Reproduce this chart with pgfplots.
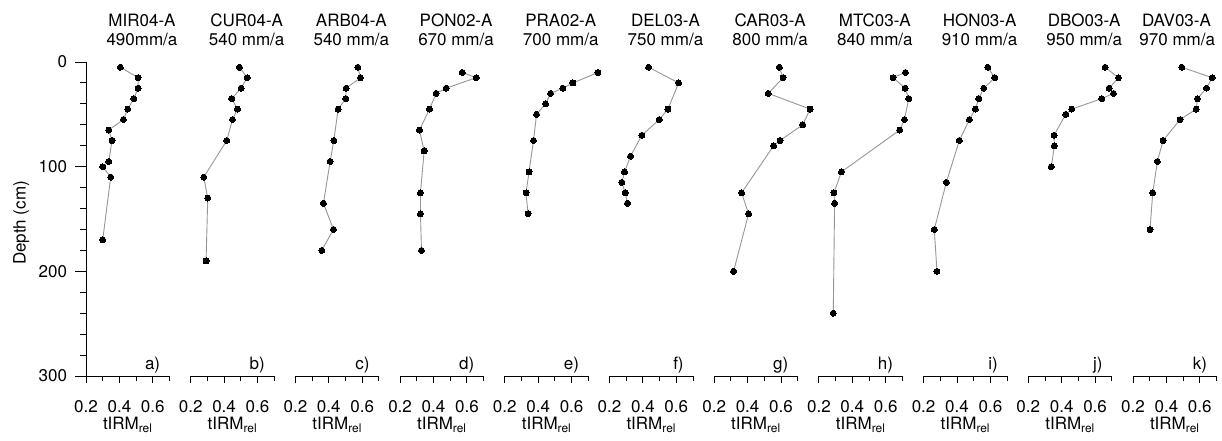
\documentclass[border=0pt]{standalone}
\usepackage{fontspec}
\setmainfont{TeX Gyre Heros}
\usepackage{pgfplots}
\pgfplotsset{compat=1.18}
\definecolor{linegray}{RGB}{150,150,150}
\newcommand{\fs}{\fontsize{17bp}{20bp}\selectfont}
\pgfplotsset{
  every axis/.append style={font=\fs},
  panel/.style={
    scale only axis, width=83.5bp, height=314bp,
    xmin=0.2, xmax=0.7, ymin=-300, ymax=0,
    axis x line*=bottom, axis y line=none,
    clip=false, anchor=south west,
    xtick={0.2,0.4,0.6}, xticklabels={0.2,0.4,0.6},
    minor xtick={0.3,0.5,0.7},
    tick align=outside, major tick length=7bp, minor tick length=4.5bp,
    axis line style={-, line width=0.9bp, black},
    every tick/.style={line width=0.9bp, black},
    xticklabel style={font=\fs, yshift=-14bp},
  },
  prof/.style={color=linegray, line width=0.9bp, mark=*, mark size=3bp,
    mark options={fill=black, draw=black, line width=0bp}},
}
\begin{document}
\begin{tikzpicture}[font=\fs]
% y axis of panel a
\begin{axis}[scale only axis, width=83.5bp, height=314bp,
  xmin=0.2, xmax=0.7, ymin=-300, ymax=0, anchor=south west, at={(86bp,65bp)},
  axis y line*=left, axis x line=none,
  ytick={-300,-200,-100,0}, yticklabels={300,200,100,0},
  minor ytick={-280,-260,...,-20},
  tick align=outside, major tick length=11bp, minor tick length=6bp,
  axis line style={-, line width=0.9bp, black},
  every tick/.style={line width=0.9bp, black},
  yticklabel style={font=\fs, xshift=-4.5bp}]
\end{axis}
\node[font=\fs, rotate=90, anchor=base] at (25.5bp,218bp) {Depth (cm)};
%
\begin{axis}[panel, at={(86bp,65bp)}]
\addplot[prof] coordinates {(0.406,-5)(0.512,-15)(0.512,-25)(0.486,-35)(0.45,-45)(0.424,-55)(0.336,-65)(0.356,-75)(0.336,-95)(0.30,-100)(0.348,-110)(0.30,-170)};
\node[font=\fs, anchor=base] at (axis cs:0.535,33.7) {MIR04-A};
\node[font=\fs, anchor=base] at (axis cs:0.535,16.2) {490mm/a};
\node[font=\fs, anchor=base east] at (axis cs:0.665,-294) {a)};
\node[font=\fs, anchor=base] at (axis cs:0.45,-351.5) {tIRM\textsubscript{rel}};
\end{axis}
%
\begin{axis}[panel, at={(190.7bp,65bp)}]
\addplot[prof] coordinates {(0.492,-5)(0.538,-15)(0.502,-25)(0.446,-35)(0.48,-45)(0.45,-55)(0.416,-75)(0.278,-110)(0.302,-130)(0.292,-190)};
\node[font=\fs, anchor=base] at (axis cs:0.535,33.7) {CUR04-A};
\node[font=\fs, anchor=base] at (axis cs:0.535,16.2) {540 mm/a};
\node[font=\fs, anchor=base east] at (axis cs:0.665,-294) {b)};
\node[font=\fs, anchor=base] at (axis cs:0.45,-351.5) {tIRM\textsubscript{rel}};
\end{axis}
%
\begin{axis}[panel, at={(295.4bp,65bp)}]
\addplot[prof] coordinates {(0.574,-5)(0.59,-15)(0.504,-25)(0.502,-35)(0.456,-45)(0.43,-75)(0.408,-95)(0.368,-135)(0.428,-160)(0.358,-180)};
\node[font=\fs, anchor=base] at (axis cs:0.535,33.7) {ARB04-A};
\node[font=\fs, anchor=base] at (axis cs:0.535,16.2) {540 mm/a};
\node[font=\fs, anchor=base east] at (axis cs:0.665,-294) {c)};
\node[font=\fs, anchor=base] at (axis cs:0.45,-351.5) {tIRM\textsubscript{rel}};
\end{axis}
%
\begin{axis}[panel, at={(400.1bp,65bp)}]
\addplot[prof] coordinates {(0.572,-10)(0.656,-15)(0.476,-25)(0.416,-30)(0.376,-45)(0.316,-65)(0.344,-85)(0.322,-125)(0.322,-145)(0.328,-180)};
\node[font=\fs, anchor=base] at (axis cs:0.535,33.7) {PON02-A};
\node[font=\fs, anchor=base] at (axis cs:0.535,16.2) {670 mm/a};
\node[font=\fs, anchor=base east] at (axis cs:0.665,-294) {d)};
\node[font=\fs, anchor=base] at (axis cs:0.45,-351.5) {tIRM\textsubscript{rel}};
\end{axis}
%
\begin{axis}[panel, at={(504.8bp,65bp)}]
\addplot[prof] coordinates {(0.758,-10)(0.608,-20)(0.548,-25)(0.474,-30)(0.444,-40)(0.39,-50)(0.372,-75)(0.345,-105)(0.327,-125)(0.339,-145)};
\node[font=\fs, anchor=base] at (axis cs:0.535,33.7) {PRA02-A};
\node[font=\fs, anchor=base] at (axis cs:0.535,16.2) {700 mm/a};
\node[font=\fs, anchor=base east] at (axis cs:0.665,-294) {e)};
\node[font=\fs, anchor=base] at (axis cs:0.45,-351.5) {tIRM\textsubscript{rel}};
\end{axis}
%
\begin{axis}[panel, at={(609.5bp,65bp)}]
\addplot[prof] coordinates {(0.434,-5)(0.614,-20)(0.55,-45)(0.498,-55)(0.394,-70)(0.326,-90)(0.29,-105)(0.274,-115)(0.294,-125)(0.308,-135)};
\node[font=\fs, anchor=base] at (axis cs:0.535,33.7) {DEL03-A};
\node[font=\fs, anchor=base] at (axis cs:0.535,16.2) {750 mm/a};
\node[font=\fs, anchor=base east] at (axis cs:0.665,-294) {f)};
\node[font=\fs, anchor=base] at (axis cs:0.45,-351.5) {tIRM\textsubscript{rel}};
\end{axis}
%
\begin{axis}[panel, at={(714.2bp,65bp)}]
\addplot[prof] coordinates {(0.59,-5)(0.612,-15)(0.524,-30)(0.774,-45)(0.73,-60)(0.594,-75)(0.556,-80)(0.364,-125)(0.406,-145)(0.316,-200)};
\node[font=\fs, anchor=base] at (axis cs:0.535,33.7) {CAR03-A};
\node[font=\fs, anchor=base] at (axis cs:0.535,16.2) {800 mm/a};
\node[font=\fs, anchor=base east] at (axis cs:0.665,-294) {g)};
\node[font=\fs, anchor=base] at (axis cs:0.45,-351.5) {tIRM\textsubscript{rel}};
\end{axis}
%
\begin{axis}[panel, at={(818.9bp,65bp)}]
\addplot[prof] coordinates {(0.718,-10)(0.644,-15)(0.716,-25)(0.738,-35)(0.712,-55)(0.684,-65)(0.335,-105)(0.29,-125)(0.294,-135)(0.286,-240)};
\node[font=\fs, anchor=base] at (axis cs:0.535,33.7) {MTC03-A};
\node[font=\fs, anchor=base] at (axis cs:0.535,16.2) {840 mm/a};
\node[font=\fs, anchor=base east] at (axis cs:0.665,-294) {h)};
\node[font=\fs, anchor=base] at (axis cs:0.45,-351.5) {tIRM\textsubscript{rel}};
\end{axis}
%
\begin{axis}[panel, at={(923.6bp,65bp)}]
\addplot[prof] coordinates {(0.584,-5)(0.626,-15)(0.56,-25)(0.53,-35)(0.51,-45)(0.474,-55)(0.414,-75)(0.336,-115)(0.264,-160)(0.28,-200)};
\node[font=\fs, anchor=base] at (axis cs:0.535,33.7) {HON03-A};
\node[font=\fs, anchor=base] at (axis cs:0.535,16.2) {910 mm/a};
\node[font=\fs, anchor=base east] at (axis cs:0.665,-294) {i)};
\node[font=\fs, anchor=base] at (axis cs:0.45,-351.5) {tIRM\textsubscript{rel}};
\end{axis}
%
\begin{axis}[panel, at={(1028.3bp,65bp)}]
\addplot[prof] coordinates {(0.66,-5)(0.74,-15)(0.684,-25)(0.71,-30)(0.64,-35)(0.46,-45)(0.424,-50)(0.354,-70)(0.356,-80)(0.338,-100)};
\node[font=\fs, anchor=base] at (axis cs:0.535,33.7) {DBO03-A};
\node[font=\fs, anchor=base] at (axis cs:0.535,16.2) {950 mm/a};
\node[font=\fs, anchor=base east] at (axis cs:0.665,-294) {j)};
\node[font=\fs, anchor=base] at (axis cs:0.45,-351.5) {tIRM\textsubscript{rel}};
\end{axis}
%
\begin{axis}[panel, at={(1133bp,65bp)}]
\addplot[prof] coordinates {(0.492,-5)(0.674,-15)(0.64,-25)(0.586,-35)(0.578,-45)(0.482,-55)(0.38,-75)(0.346,-95)(0.318,-125)(0.302,-160)};
\node[font=\fs, anchor=base] at (axis cs:0.46,33.7) {DAV03-A};
\node[font=\fs, anchor=base] at (axis cs:0.465,16.2) {970 mm/a};
\node[font=\fs, anchor=base east] at (axis cs:0.665,-294) {k)};
\node[font=\fs, anchor=base] at (axis cs:0.45,-351.5) {tIRM\textsubscript{rel}};
\end{axis}
\pgfresetboundingbox
\path[use as bounding box] (0,0) rectangle (1222bp,441bp);
\end{tikzpicture}
\end{document}
